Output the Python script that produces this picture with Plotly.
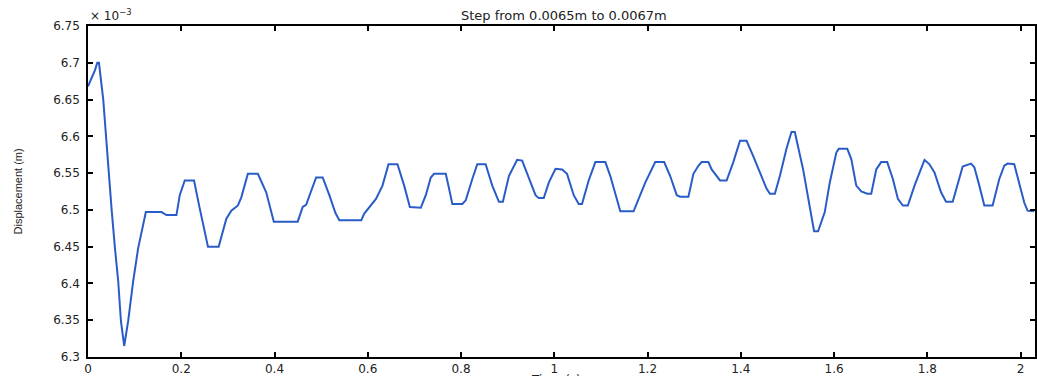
import plotly.graph_objects as go

# Time (s)
time_s = [0.0, 0.0079, 0.015, 0.0199, 0.0235, 0.0327, 0.0385, 0.0443, 0.0507, 0.0578,
          0.0648, 0.0706, 0.0776, 0.0862, 0.0969, 0.1076, 0.1241, 0.1576, 0.1683, 0.1897,
          0.1968, 0.2075, 0.2274, 0.2396, 0.2573, 0.2802, 0.2967, 0.3074, 0.3215, 0.3288,
          0.3429, 0.3643, 0.3822, 0.3985, 0.4498, 0.4605, 0.4678, 0.4892, 0.5033, 0.5176,
          0.5305, 0.539, 0.5861, 0.5925, 0.6032, 0.6176, 0.6316, 0.6445, 0.6637, 0.6781,
          0.6903, 0.7138, 0.7245, 0.7352, 0.7422, 0.7673, 0.7743, 0.7814, 0.8028, 0.8101,
          0.8242, 0.8349, 0.8528, 0.867, 0.8813, 0.8898, 0.9027, 0.9134, 0.9204, 0.9311,
          0.9455, 0.9598, 0.9668, 0.9775, 0.9882, 1.0026, 1.0167, 1.0274, 1.0417, 1.0524,
          1.0595, 1.0738, 1.0881, 1.1095, 1.1202, 1.1309, 1.1416, 1.1701, 1.1807, 1.1951,
          1.2165, 1.2357, 1.2486, 1.2627, 1.2699, 1.2877, 1.2984, 1.3091, 1.3161, 1.3305,
          1.3375, 1.3482, 1.3555, 1.3696, 1.384, 1.3983, 1.4124, 1.4267, 1.4411, 1.4552,
          1.4624, 1.4731, 1.4838, 1.498, 1.5087, 1.5159, 1.5337, 1.5514, 1.5572, 1.5658,
          1.5801, 1.5908, 1.6049, 1.61, 1.6284, 1.637, 1.6477, 1.6584, 1.6712, 1.6798,
          1.6905, 1.7011, 1.714, 1.7262, 1.7369, 1.7476, 1.7583, 1.7726, 1.7867, 1.794,
          1.8047, 1.8154, 1.8295, 1.8402, 1.8545, 1.8689, 1.8759, 1.8937, 1.9009, 1.9116,
          1.9223, 1.9401, 1.9544, 1.9651, 1.9722, 1.9865, 1.9972, 2.0079, 2.015, 2.0293]

# Displacement (x 10^-3 m)
displacement = [6.668, 6.679, 6.69, 6.70, 6.70, 6.65, 6.60, 6.55, 6.50, 6.448,
                6.403, 6.349, 6.315, 6.349, 6.403, 6.448, 6.497, 6.497, 6.493, 6.493,
                6.52, 6.54, 6.54, 6.502, 6.45, 6.45, 6.488, 6.499, 6.506, 6.517,
                6.549, 6.549, 6.524, 6.484, 6.484, 6.504, 6.507, 6.544, 6.544, 6.52,
                6.496, 6.486, 6.486, 6.495, 6.504, 6.515, 6.533, 6.562, 6.562, 6.533,
                6.504, 6.503, 6.52, 6.544, 6.549, 6.549, 6.529, 6.508, 6.508, 6.513,
                6.542, 6.562, 6.562, 6.533, 6.511, 6.511, 6.546, 6.56, 6.568, 6.567,
                6.542, 6.52, 6.516, 6.516, 6.537, 6.556, 6.555, 6.549, 6.52, 6.508,
                6.508, 6.54, 6.565, 6.565, 6.546, 6.52, 6.498, 6.498, 6.515, 6.537,
                6.565, 6.565, 6.546, 6.52, 6.518, 6.518, 6.549, 6.56, 6.565, 6.565,
                6.555, 6.546, 6.54, 6.54, 6.565, 6.594, 6.594, 6.573, 6.551, 6.529,
                6.522, 6.522, 6.546, 6.583, 6.606, 6.606, 6.555, 6.488, 6.471, 6.471,
                6.497, 6.537, 6.578, 6.583, 6.583, 6.569, 6.533, 6.525, 6.522, 6.522,
                6.555, 6.565, 6.565, 6.542, 6.515, 6.506, 6.506, 6.533, 6.558, 6.568,
                6.562, 6.551, 6.524, 6.511, 6.511, 6.546, 6.559, 6.563, 6.558, 6.533,
                6.506, 6.506, 6.542, 6.56, 6.563, 6.562, 6.537, 6.51, 6.499, 6.498]

x_tick_vals = [0, 0.2, 0.4, 0.6, 0.8, 1.0, 1.2, 1.4, 1.6, 1.8, 2.0]
x_tick_text = ["0", "0.2", "0.4", "0.6", "0.8", "1", "1.2", "1.4", "1.6", "1.8", "2"]
y_tick_vals = [6.3, 6.35, 6.4, 6.45, 6.5, 6.55, 6.6, 6.65, 6.7, 6.75]
y_tick_text = ["6.3", "6.35", "6.4", "6.45", "6.5", "6.55", "6.6", "6.65", "6.7", "6.75"]

tick_font = dict(family="DejaVu Sans, Arial, sans-serif", size=12, color="#222222")

fig = go.Figure()
fig.add_trace(go.Scatter(x=time_s, y=displacement, mode="lines",
                         line=dict(color="#2a5cc8", width=2), showlegend=False,
                         hoverinfo="skip"))

fig.update_layout(
    width=1037, height=376,
    margin=dict(l=88, r=0, t=26, b=16),
    paper_bgcolor="white", plot_bgcolor="white",
    font=tick_font,
)
fig.update_xaxes(range=[0, 2.031], tickvals=x_tick_vals, ticktext=x_tick_text,
                 showgrid=False, zeroline=False, showline=True, linecolor="black",
                 linewidth=1.5, mirror="ticks", ticks="inside", ticklen=5,
                 tickcolor="black", tickwidth=1.5, tickfont=tick_font)
fig.update_yaxes(range=[6.3, 6.75], tickvals=y_tick_vals, ticktext=y_tick_text,
                 showgrid=False, zeroline=False, showline=True, linecolor="black",
                 linewidth=1.5, mirror="ticks", ticks="inside", ticklen=5, ticklabelstandoff=4,
                 tickcolor="black", tickwidth=1.5, tickfont=tick_font)

fig.add_annotation(text="Step from 0.0065m to 0.0067m", xref="paper", yref="paper",
                   x=0.503, y=1.0, xanchor="center", yanchor="bottom", yshift=1,
                   showarrow=False,
                   font=dict(family="DejaVu Sans, Arial, sans-serif", size=13, color="#222222"))
fig.add_annotation(text="× 10<sup>−3</sup>", xref="paper", yref="paper",
                   x=0.0, y=1.0, xanchor="left", yanchor="bottom", yshift=1,
                   showarrow=False,
                   font=dict(family="DejaVu Sans, Arial, sans-serif", size=12, color="#222222"))
fig.add_annotation(text="Displacement (m)", xref="paper", yref="paper",
                   x=-0.0, xshift=-71, y=0.5, textangle=-90, xanchor="center",
                   yanchor="middle", showarrow=False,
                   font=dict(family="Liberation Sans Narrow, Arial Narrow, sans-serif",
                             size=11, color="#222222"))
fig.add_annotation(text="Time (s)", xref="paper", yref="paper",
                   x=0.494, y=0.0, yshift=-14, xanchor="center", yanchor="top",
                   showarrow=False,
                   font=dict(family="DejaVu Sans, Arial, sans-serif", size=12, color="#222222"))

fig.write_html("out.html")
